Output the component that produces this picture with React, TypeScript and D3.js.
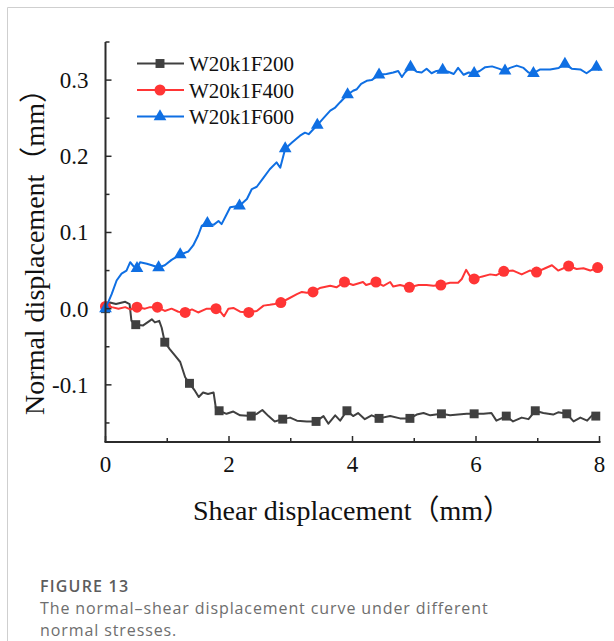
import React, { useEffect, useRef } from 'react';
import * as d3 from 'd3';

// [shear displacement (mm), normal displacement (mm)]
const w200Line = [
  [0, 0.0], [0.02, 0.0], [0.07, 0.008], [0.17, 0.006], [0.32, 0.009], [0.39, 0.006], [0.42, -0.016],
  [0.49, -0.021], [0.61, -0.022], [0.75, -0.014], [0.8, -0.018], [0.87, -0.016], [0.91, -0.025],
  [0.96, -0.044], [1.04, -0.053], [1.13, -0.062], [1.21, -0.07], [1.29, -0.09], [1.36, -0.098],
  [1.45, -0.108], [1.51, -0.116], [1.58, -0.11], [1.66, -0.112], [1.75, -0.11], [1.79, -0.132],
  [1.84, -0.134], [1.96, -0.138], [2.07, -0.135], [2.18, -0.14], [2.36, -0.141], [2.45, -0.138],
  [2.54, -0.133], [2.64, -0.141], [2.74, -0.148], [2.87, -0.145], [2.99, -0.143], [3.1, -0.147],
  [3.26, -0.148], [3.41, -0.148], [3.53, -0.141], [3.61, -0.151], [3.72, -0.14], [3.8, -0.147],
  [3.91, -0.134], [4.01, -0.141], [4.09, -0.137], [4.2, -0.145], [4.31, -0.14], [4.43, -0.144],
  [4.61, -0.141], [4.77, -0.144], [4.93, -0.144], [5.04, -0.139], [5.15, -0.137], [5.26, -0.14],
  [5.44, -0.138], [5.58, -0.14], [5.71, -0.139], [5.85, -0.138], [5.97, -0.138], [6.12, -0.138],
  [6.25, -0.137], [6.33, -0.147], [6.49, -0.141], [6.6, -0.148], [6.74, -0.143], [6.85, -0.145],
  [6.96, -0.134], [7.09, -0.137], [7.25, -0.139], [7.33, -0.136], [7.47, -0.138], [7.58, -0.148],
  [7.69, -0.143], [7.8, -0.147], [7.88, -0.14], [7.94, -0.141], [8.0, -0.141],
];
const w200Marks = [
  [0, 0.0], [0.49, -0.021], [0.96, -0.044], [1.36, -0.098], [1.84, -0.134], [2.36, -0.141],
  [2.87, -0.145], [3.41, -0.148], [3.91, -0.134], [4.43, -0.144], [4.93, -0.144], [5.44, -0.138],
  [5.97, -0.138], [6.49, -0.141], [6.96, -0.134], [7.47, -0.138], [7.94, -0.141],
];

const w400Line = [
  [0, 0.003], [0.02, 0.005], [0.1, 0.002], [0.21, 0.0], [0.32, 0.002], [0.4, -0.001], [0.51, 0.002],
  [0.64, 0.0], [0.72, 0.002], [0.84, 0.002], [0.96, -0.003], [1.07, 0.0], [1.18, -0.004],
  [1.29, -0.005], [1.4, -0.001], [1.5, -0.005], [1.64, 0.0], [1.79, 0.0], [1.85, -0.003],
  [1.92, -0.01], [1.99, 0.0], [2.07, 0.001], [2.18, -0.004], [2.32, -0.005], [2.45, -0.003],
  [2.56, 0.004], [2.66, 0.005], [2.74, 0.006], [2.84, 0.008], [2.96, 0.013], [3.1, 0.019],
  [3.18, 0.022], [3.26, 0.021], [3.36, 0.022], [3.47, 0.027], [3.64, 0.03], [3.74, 0.028],
  [3.87, 0.035], [4.01, 0.031], [4.17, 0.035], [4.22, 0.031], [4.38, 0.035], [4.5, 0.03],
  [4.61, 0.035], [4.66, 0.029], [4.77, 0.031], [4.92, 0.028], [5.07, 0.031], [5.2, 0.031],
  [5.31, 0.03], [5.43, 0.031], [5.58, 0.034], [5.71, 0.034], [5.77, 0.039], [5.84, 0.051],
  [5.9, 0.043], [5.97, 0.039], [6.09, 0.042], [6.23, 0.045], [6.33, 0.044], [6.45, 0.049],
  [6.6, 0.05], [6.74, 0.045], [6.87, 0.05], [6.98, 0.048], [7.12, 0.053], [7.23, 0.057],
  [7.33, 0.05], [7.5, 0.056], [7.63, 0.052], [7.74, 0.053], [7.85, 0.05], [7.97, 0.054], [8.0, 0.054],
];
const w400Marks = [
  [0, 0.003], [0.51, 0.002], [0.84, 0.002], [1.29, -0.005], [1.79, 0.0], [2.32, -0.005],
  [2.84, 0.008], [3.36, 0.022], [3.87, 0.035], [4.38, 0.035], [4.92, 0.028], [5.43, 0.031],
  [5.97, 0.039], [6.45, 0.049], [6.98, 0.048], [7.5, 0.056], [7.97, 0.054],
];

const w600Line = [
  [0, 0.0], [0.02, 0.004], [0.1, 0.019], [0.18, 0.037], [0.26, 0.046], [0.34, 0.05], [0.4, 0.061],
  [0.45, 0.056], [0.51, 0.053], [0.56, 0.061], [0.67, 0.059], [0.75, 0.057], [0.86, 0.054],
  [0.96, 0.057], [1.07, 0.064], [1.21, 0.071], [1.34, 0.075], [1.42, 0.083], [1.5, 0.096],
  [1.56, 0.109], [1.65, 0.112], [1.75, 0.11], [1.83, 0.115], [1.88, 0.111], [1.95, 0.122],
  [2.02, 0.133], [2.17, 0.135], [2.29, 0.144], [2.37, 0.157], [2.45, 0.16], [2.56, 0.172],
  [2.66, 0.183], [2.77, 0.192], [2.83, 0.185], [2.91, 0.21], [3.02, 0.218], [3.15, 0.227],
  [3.23, 0.231], [3.29, 0.229], [3.43, 0.241], [3.53, 0.25], [3.64, 0.26], [3.72, 0.264],
  [3.8, 0.271], [3.92, 0.281], [4.01, 0.286], [4.07, 0.288], [4.14, 0.295], [4.23, 0.299],
  [4.31, 0.3], [4.43, 0.307], [4.55, 0.308], [4.66, 0.31], [4.74, 0.312], [4.8, 0.304],
  [4.85, 0.31], [4.94, 0.317], [5.04, 0.311], [5.12, 0.31], [5.2, 0.315], [5.28, 0.309],
  [5.36, 0.312], [5.46, 0.313], [5.55, 0.311], [5.64, 0.308], [5.71, 0.316], [5.8, 0.307],
  [5.88, 0.31], [5.97, 0.309], [6.06, 0.312], [6.15, 0.317], [6.26, 0.318], [6.37, 0.315],
  [6.47, 0.312], [6.55, 0.316], [6.66, 0.319], [6.77, 0.316], [6.85, 0.31], [6.93, 0.309],
  [7.04, 0.314], [7.2, 0.314], [7.34, 0.316], [7.44, 0.321], [7.55, 0.315], [7.69, 0.314],
  [7.79, 0.309], [7.88, 0.314], [7.95, 0.317], [8.0, 0.313],
];
const w600Marks = [
  [0, 0.0], [0.51, 0.053], [0.86, 0.054], [1.21, 0.071], [1.65, 0.112], [2.17, 0.135],
  [2.91, 0.21], [3.43, 0.241], [3.92, 0.281], [4.43, 0.307], [4.94, 0.317], [5.46, 0.313],
  [5.97, 0.309], [6.47, 0.312], [6.93, 0.309], [7.44, 0.321], [7.95, 0.317],
];

const seriesNames = ['W20k1F200', 'W20k1F400', 'W20k1F600'];
const xTicks = [0, 2, 4, 6, 8];
const xMinorTicks = [1, 3, 5, 7];
const yTicks = [-0.1, 0.0, 0.1, 0.2, 0.3];
const yMinorTicks = [-0.15, -0.05, 0.05, 0.15, 0.25, 0.35];
const captionLines = ['The normal–shear displacement curve under different', 'normal stresses.'];

const serif = '"Liberation Serif", "Times New Roman", "Noto Sans CJK SC", serif';

const App = () => {
  const chartRef = useRef(null);

  useEffect(() => {
    drawChart();
  }, []);

  const drawChart = () => {
    const svg = d3.select(chartRef.current);
    svg.selectAll('*').remove();

    // card border
    svg.append('path')
      .attr('d', 'M7.5,641 V7.5 H614')
      .attr('fill', 'none')
      .attr('stroke', '#cfcfcf')
      .attr('stroke-width', 1);

    const x = d3.scaleLinear().domain([0, 8]).range([105.5, 599.5]);
    const y = d3.scaleLinear().domain([-0.175, 0.35]).range([442, 42]);

    const series = [
      { name: seriesNames[0], line: w200Line, marks: w200Marks, color: '#404040', symbol: d3.symbolSquare, size: 80 },
      { name: seriesNames[1], line: w400Line, marks: w400Marks, color: '#ff3535', symbol: d3.symbolCircle, size: 95 },
      { name: seriesNames[2], line: w600Line, marks: w600Marks, color: '#0f6fe3', symbol: d3.symbolTriangle, size: 70 },
    ];

    const line = d3.line()
      .x(d => x(d[0]))
      .y(d => y(d[1]));

    const plot = svg.append('g');
    series.forEach(s => {
      plot.append('path')
        .datum(s.line)
        .attr('fill', 'none')
        .attr('stroke', s.color)
        .attr('stroke-width', 2)
        .attr('stroke-linejoin', 'round')
        .attr('d', line);
      plot.selectAll(null)
        .data(s.marks)
        .enter()
        .append('path')
        .attr('transform', d => `translate(${x(d[0])},${y(d[1])})`)
        .attr('d', d3.symbol().type(s.symbol).size(s.size)())
        .attr('fill', s.color);
    });

    // axes (ticks point inward)
    const axisColor = '#2b2b2b';
    const xAxis = svg.append('g').attr('transform', `translate(0,${y.range()[0]})`);
    xAxis.append('line')
      .attr('x1', x.range()[0] - 1).attr('x2', x.range()[1] + 1)
      .attr('stroke', axisColor).attr('stroke-width', 2);
    xAxis.selectAll('.maj').data(xTicks).enter().append('line')
      .attr('x1', d => x(d)).attr('x2', d => x(d)).attr('y1', 0).attr('y2', -6)
      .attr('stroke', axisColor).attr('stroke-width', 1.5);
    xAxis.selectAll('.min').data(xMinorTicks).enter().append('line')
      .attr('x1', d => x(d)).attr('x2', d => x(d)).attr('y1', 0).attr('y2', -4)
      .attr('stroke', axisColor).attr('stroke-width', 1.5);
    xAxis.selectAll('text').data(xTicks).enter().append('text')
      .attr('x', d => x(d)).attr('y', 30)
      .attr('text-anchor', 'middle')
      .style('font-family', serif).style('font-size', '23px').attr('fill', '#111')
      .text(d => String(d));

    const yAxis = svg.append('g').attr('transform', `translate(${x.range()[0]},0)`);
    yAxis.append('line')
      .attr('y1', y.range()[0]).attr('y2', y.range()[1])
      .attr('stroke', axisColor).attr('stroke-width', 2);
    yAxis.selectAll('.maj').data(yTicks).enter().append('line')
      .attr('y1', d => y(d)).attr('y2', d => y(d)).attr('x1', 0).attr('x2', 6)
      .attr('stroke', axisColor).attr('stroke-width', 1.5);
    yAxis.selectAll('.min').data(yMinorTicks).enter().append('line')
      .attr('y1', d => y(d)).attr('y2', d => y(d)).attr('x1', 0).attr('x2', 4)
      .attr('stroke', axisColor).attr('stroke-width', 1.5);
    yAxis.selectAll('text').data(yTicks).enter().append('text')
      .attr('x', -17).attr('y', d => y(d) + 8)
      .attr('text-anchor', 'end')
      .style('font-family', serif).style('font-size', '23px').attr('fill', '#111')
      .text(d => d.toFixed(1));

    // axis titles
    svg.append('text')
      .attr('x', 352).attr('y', 520)
      .attr('text-anchor', 'middle')
      .style('font-family', serif).style('font-size', '28px').attr('fill', '#111')
      .text('Shear displacement（mm）');
    svg.append('text')
      .attr('transform', 'translate(44,245) rotate(-90)')
      .attr('text-anchor', 'middle')
      .style('font-family', serif).style('font-size', '28px').attr('fill', '#111')
      .text('Normal displacement（mm）');

    // legend
    const legend = svg.append('g');
    series.forEach((s, i) => {
      const ly = 63.5 + i * 26.5;
      legend.append('line')
        .attr('x1', 137).attr('x2', 184).attr('y1', ly).attr('y2', ly)
        .attr('stroke', s.color).attr('stroke-width', 2);
      legend.append('path')
        .attr('transform', `translate(160,${ly})`)
        .attr('d', d3.symbol().type(s.symbol).size(s.size)())
        .attr('fill', s.color);
      legend.append('text')
        .attr('x', 189).attr('y', ly + 7.5)
        .style('font-family', serif).style('font-size', '21px').attr('fill', '#111')
        .text(s.name);
    });

    // caption
    const sans = '"Open Sans", "Noto Sans", sans-serif';
    svg.append('text')
      .attr('x', 40).attr('y', 592)
      .style('font-family', sans).style('font-size', '16px').style('font-weight', 600)
      .style('letter-spacing', '1.2px')
      .attr('fill', '#5c5c5c')
      .text('FIGURE 13');
    svg.selectAll('.cap').data(captionLines).enter().append('text')
      .attr('x', 40).attr('y', (d, i) => 614 + i * 22)
      .style('font-family', sans).style('font-size', '16px')
      .style('letter-spacing', '0.9px')
      .attr('fill', '#6e6e6e')
      .text(d => d);
  };

  return (
    <svg
      ref={chartRef}
      width={614}
      height={641}
      style={{ position: 'absolute', left: 0, top: 0, background: '#fff' }}
    ></svg>
  );
};

export default App;
